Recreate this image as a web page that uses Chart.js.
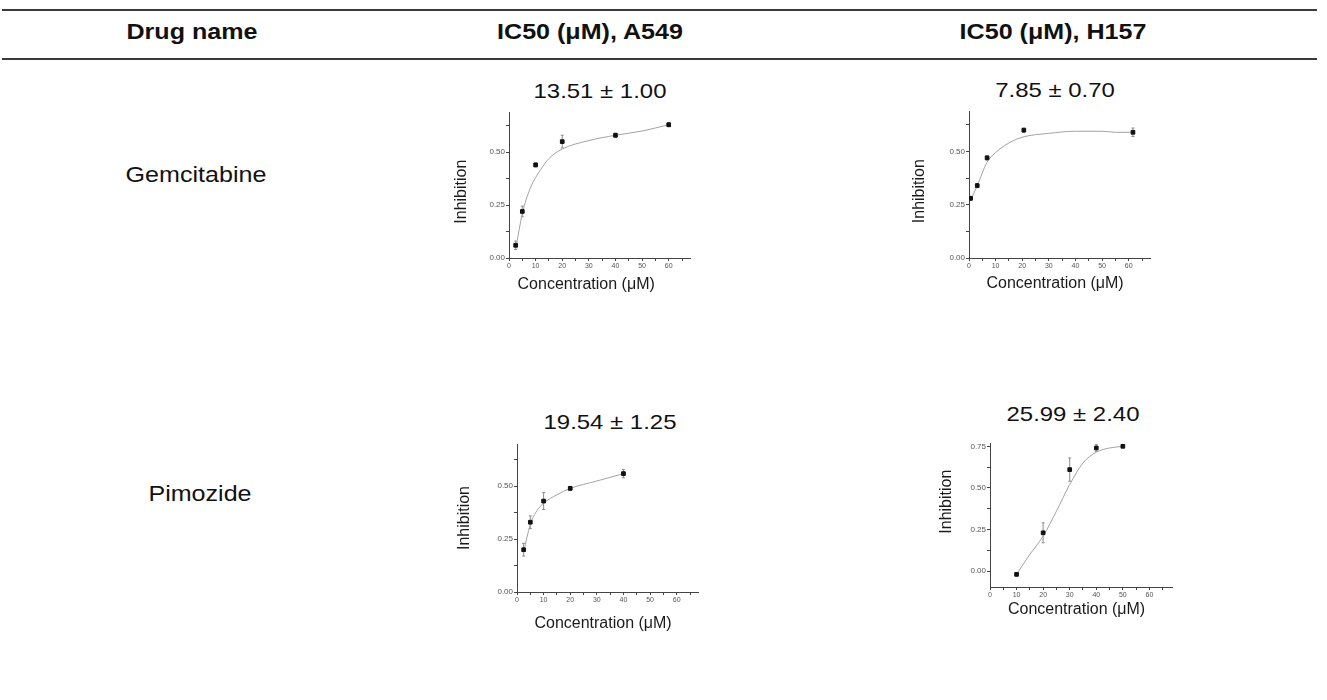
<!DOCTYPE html>
<html>
<head>
<meta charset="utf-8">
<title>IC50</title>
<script src="https://cdn.jsdelivr.net/npm/chart.js@4.4.1/dist/chart.umd.min.js"></script>
<style>
  body { margin: 0; width: 1327px; height: 700px; background: #fff; position: relative; overflow: hidden;
         font-family: Arial, "Liberation Sans", sans-serif; color: #111; }
  .rule { position: absolute; left: 2px; width: 1315px; height: 2px; background: #3a3a3a; }
  .txt { position: absolute; white-space: nowrap; font-size: 22px; line-height: 22px;
         transform: translateX(-50%) scaleX(1.14); }
  .head { font-weight: bold; }
  .ic { font-size: 21px; line-height: 21px; }
  canvas { position: absolute; }
</style>
</head>
<body>
<div class="rule" style="top:8.5px"></div>
<div class="rule" style="top:57.5px"></div>
<div class="txt head" style="left:192px; top:21.4px">Drug name</div>
<div class="txt head" style="left:590px; top:21.4px">IC50 (μM), A549</div>
<div class="txt head" style="left:1053px; top:21.4px">IC50 (μM), H157</div>
<div class="txt" style="left:196px; top:164.4px">Gemcitabine</div>
<div class="txt" style="left:199.5px; top:483.4px">Pimozide</div>
<div class="txt ic" style="left:600px; top:80.2px">13.51 ± 1.00</div>
<div class="txt ic" style="left:1055px; top:79.2px">7.85 ± 0.70</div>
<div class="txt ic" style="left:610px; top:411.2px">19.54 ± 1.25</div>
<div class="txt ic" style="left:1073px; top:403px">25.99 ± 2.40</div>

<script>
// 数値データ
const xMajor = [0, 10, 20, 30, 40, 50, 60];
const xMinor = [5, 15, 25, 35, 45, 55, 65];

// Gemcitabine / A549
const concGemA549 = [2.5, 5, 10, 20, 40, 60];
const inhGemA549 = [0.06, 0.22, 0.44, 0.55, 0.58, 0.63];
const errGemA549 = [0.02, 0.025, 0.01, 0.03, 0.01, 0.01];
const fitXGemA549 = [2.5, 5, 8, 10, 12, 15, 20, 30, 40, 50, 60];
const fitYGemA549 = [0.04, 0.21, 0.33, 0.38, 0.42, 0.47, 0.515, 0.555, 0.58, 0.60, 0.63];

// Gemcitabine / H157
const concGemH157 = [0.6, 3.1, 6.8, 20.6, 61.6];
const inhGemH157 = [0.28, 0.34, 0.47, 0.60, 0.59];
const errGemH157 = [0.01, 0.01, 0.01, 0.01, 0.02];
const fitXGemH157 = [0.6, 3.1, 6.8, 10, 15, 20, 30, 40, 50, 55, 61.6];
const fitYGemH157 = [0.27, 0.34, 0.45, 0.495, 0.54, 0.567, 0.585, 0.595, 0.595, 0.59, 0.59];

// Pimozide / A549
const concPimA549 = [2.5, 5, 10, 20, 40];
const inhPimA549 = [0.20, 0.33, 0.43, 0.49, 0.56];
const errPimA549 = [0.03, 0.03, 0.04, 0.01, 0.02];
const fitXPimA549 = [2.5, 5, 7.5, 10, 15, 20, 30, 40];
const fitYPimA549 = [0.19, 0.32, 0.385, 0.42, 0.46, 0.49, 0.525, 0.56];

// Pimozide / H157
const concPimH157 = [10, 20, 30, 40, 50];
const inhPimH157 = [-0.02, 0.23, 0.61, 0.74, 0.75];
const errPimH157 = [0.01, 0.06, 0.07, 0.02, 0.005];
const fitXPimH157 = [10, 15, 20, 25, 30, 35, 40, 45, 50];
const fitYPimH157 = [-0.02, 0.10, 0.21, 0.36, 0.52, 0.65, 0.715, 0.74, 0.75];

const yMajor = [0, 0.25, 0.5];
const yMinor = [0.125, 0.375, 0.625];
const yMajorWide = [0, 0.25, 0.5, 0.75];

Chart.defaults.font.family = 'Arial, "Liberation Sans", sans-serif';

// エラーバー（スケール経由で描画）
const errorBars = {
  id: 'errorBars',
  beforeDatasetsDraw(chart) {
    const ctx = chart.ctx;
    const x = chart.scales.x, y = chart.scales.y;
    chart.data.datasets.forEach(ds => {
      if (!ds.errors) return;
      ctx.save();
      ctx.strokeStyle = '#8c8c8c';
      ctx.lineWidth = 1;
      ds.data.forEach((p, i) => {
        const px = x.getPixelForValue(p.x);
        const top = y.getPixelForValue(p.y + ds.errors[i]);
        const bot = y.getPixelForValue(p.y - ds.errors[i]);
        ctx.beginPath();
        ctx.moveTo(px, top); ctx.lineTo(px, bot);
        ctx.moveTo(px - 1.5, top); ctx.lineTo(px + 1.5, top);
        ctx.moveTo(px - 1.5, bot); ctx.lineTo(px + 1.5, bot);
        ctx.stroke();
      });
      ctx.restore();
    });
  }
};

function pairs(xs, ys) {
  return xs.map((v, i) => ({ x: v, y: ys[i] }));
}

// タイトル位置の微調整用（前後に空白を足す）
function pad(text, before, after) {
  return '\u00a0'.repeat(before) + text + '\u00a0'.repeat(after);
}

// 1パネル描画
function drawPanel(box, d) {
  const left = box.yTitleX - 20;
  const top = box.T - 10;
  const width = box.R + 15 - left;
  const height = box.xTitleY + 12 - top;
  const canvas = document.createElement('canvas');
  canvas.width = width;
  canvas.height = height;
  canvas.style.left = left + 'px';
  canvas.style.top = top + 'px';
  document.body.appendChild(canvas);

  const xTicks = xMajor.concat(xMinor).filter(v => v <= d.xMax).sort((a, b) => a - b);
  const yTicks = d.yMajor.concat(yMinor).filter(v => v >= d.yMin && v <= d.yMax).sort((a, b) => a - b);

  new Chart(canvas, {
    type: 'scatter',
    data: {
      datasets: [{
        type: 'line',
        data: pairs(d.fitX, d.fitY),
        borderColor: '#a2a2a2',
        borderWidth: 1,
        pointRadius: 0,
        cubicInterpolationMode: 'monotone',
        fill: false,
        order: 2
      }, {
        data: pairs(d.x, d.y),
        errors: d.err,
        backgroundColor: '#111',
        borderColor: '#111',
        pointStyle: 'rect',
        pointRadius: 2.6,
        order: 1
      }]
    },
    options: {
      responsive: false,
      animation: false,
      events: [],
      layout: { padding: { left: 0, top: 10, right: 15, bottom: 0 } },
      plugins: { legend: { display: false }, tooltip: { enabled: false } },
      scales: {
        x: {
          type: 'linear',
          min: 0,
          max: d.xMax,
          afterBuildTicks: s => { s.ticks = xTicks.map(v => ({ value: v })); },
          afterFit: s => { s.height = box.xTitleY + 12 - box.B; },
          grid: { drawOnChartArea: false, tickLength: 3, tickColor: '#444' },
          border: { color: '#444', width: 1 },
          ticks: {
            autoSkip: false, maxRotation: 0, padding: 1, color: '#555', font: { size: 7 },
            callback: v => xMajor.includes(v) ? String(v) : ''
          },
          title: { display: true, text: pad('Concentration (μM)', 0, box.xShift), color: '#1a1a1a',
                   font: { size: 16 }, padding: { top: 0, bottom: 2.4 } }
        },
        y: {
          type: 'linear',
          min: d.yMin,
          max: d.yMax,
          afterBuildTicks: s => { s.ticks = yTicks.map(v => ({ value: v })); },
          afterFit: s => { s.width = box.L - left; },
          grid: { drawOnChartArea: false, tickLength: 3, tickColor: '#444' },
          border: { color: '#444', width: 1 },
          ticks: {
            autoSkip: false, padding: 1, color: '#555', font: { size: 8 },
            callback: v => d.yMajor.includes(v) ? v.toFixed(2) : ''
          },
          title: { display: true, text: pad('Inhibition', box.yUp, box.yDown), color: '#1a1a1a',
                   font: { size: 16 }, padding: { top: 10.4, bottom: 0 } }
        }
      }
    },
    plugins: [errorBars]
  });
}

drawPanel({ L: 509, T: 112, R: 690, B: 258, yTitleX: 462, xTitleY: 285, xShift: 6, yUp: 0, yDown: 3 },
  { x: concGemA549, y: inhGemA549, err: errGemA549, fitX: fitXGemA549, fitY: fitYGemA549,
    xMax: 68, yMin: 0, yMax: 0.69, yMajor: yMajor });

drawPanel({ L: 969, T: 111, R: 1150, B: 258, yTitleX: 920, xTitleY: 284, xShift: 2, yUp: 0, yDown: 3 },
  { x: concGemH157, y: inhGemH157, err: errGemH157, fitX: fitXGemH157, fitY: fitYGemH157,
    xMax: 68, yMin: 0, yMax: 0.69, yMajor: yMajor });

drawPanel({ L: 517, T: 444, R: 698, B: 592, yTitleX: 465, xTitleY: 624, xShift: 2, yUp: 0, yDown: 0 },
  { x: concPimA549, y: inhPimA549, err: errPimA549, fitX: fitXPimA549, fitY: fitYPimA549,
    xMax: 68, yMin: 0, yMax: 0.70, yMajor: yMajor });

drawPanel({ L: 990, T: 443, R: 1172, B: 587, yTitleX: 947, xTitleY: 610, xShift: 2, yUp: 6, yDown: 0 },
  { x: concPimH157, y: inhPimH157, err: errPimH157, fitX: fitXPimH157, fitY: fitYPimH157,
    xMax: 68.5, yMin: -0.096, yMax: 0.77, yMajor: yMajorWide });
</script>
</body>
</html>
